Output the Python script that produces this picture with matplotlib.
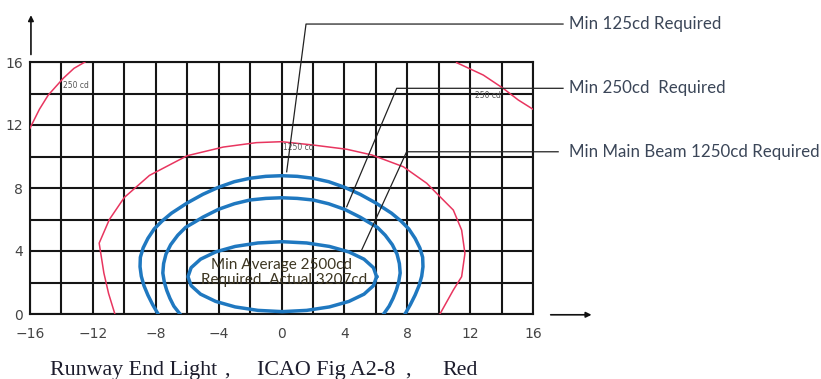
import numpy as np
import matplotlib
matplotlib.use('Agg')
import matplotlib.pyplot as plt
from matplotlib.ticker import MultipleLocator

# values (x = horizontal deg, y = vertical deg)
red_main_x = [-10.6, -11.0, -11.3, -11.6, -10.95, -10.0, -8.4, -6.0, -3.7, -1.6, 0.0,
              2.0, 4.15, 5.74, 7.75, 9.24, 10.08, 10.93, 11.46, 11.67, 11.46, 10.93, 10.08]
red_main_y = [0.0, 1.3, 2.6, 4.5, 6.0, 7.4, 8.8, 10.05, 10.6, 10.88, 10.94,
              10.73, 10.46, 10.1, 9.35, 8.3, 7.45, 6.6, 5.33, 3.85, 2.37, 1.52, 0.0]

red_tl_x = [-16.0, -15.4, -14.84, -13.88, -13.2, -12.5]
red_tl_y = [11.8, 13.0, 13.9, 14.97, 15.6, 16.0]

red_tr_x = [11.14, 12.84, 14.1, 15.06, 16.0]
red_tr_y = [15.96, 15.17, 14.33, 13.59, 13.0]

blue_outer_x = [-7.85, -8.2, -8.5, -8.75, -8.92, -9.0, -8.98, -8.8, -8.5, -8.1, -7.6,
                -7.0, -6.0, -5.0, -4.0, -3.0, -2.0, -1.0, 0.0, 1.0, 2.0, 3.0, 4.0,
                5.0, 6.0, 7.0, 7.6, 8.1, 8.5, 8.8, 8.98, 9.0, 8.92, 8.75, 8.5, 8.2, 7.86]
blue_outer_y = [0.0, 0.6, 1.2, 1.8, 2.4, 3.0, 3.6, 4.2, 4.8, 5.4, 5.9,
                6.4, 7.05, 7.6, 8.05, 8.4, 8.62, 8.74, 8.78, 8.74, 8.62, 8.4, 8.05,
                7.6, 7.05, 6.4, 5.9, 5.4, 4.8, 4.2, 3.6, 3.0, 2.4, 1.8, 1.2, 0.6, 0.0]

blue_mid_x = [-6.46, -6.85, -7.1, -7.3, -7.45, -7.55, -7.5, -7.35, -7.05, -6.6, -6.1,
              -5.5, -5.0, -4.0, -3.0, -2.0, -1.0, 0.0, 1.0, 2.0, 3.0, 4.0, 5.0,
              5.5, 6.1, 6.6, 7.05, 7.35, 7.5, 7.55, 7.45, 7.3, 7.1, 6.85, 6.5]
blue_mid_y = [0.0, 0.5, 1.0, 1.5, 2.0, 2.6, 3.2, 3.8, 4.4, 5.0, 5.5,
              5.85, 6.15, 6.65, 7.0, 7.24, 7.34, 7.38, 7.34, 7.24, 7.0, 6.65, 6.15,
              5.85, 5.5, 5.0, 4.4, 3.8, 3.2, 2.6, 2.0, 1.5, 1.0, 0.5, 0.0]

blue_in_x = [6.05, 5.85, 5.25, 4.29, 3.05, 1.6, 0.05, -1.5, -2.95, -4.19, -5.15, -5.75,
             -5.95, -5.75, -5.15, -4.19, -2.95, -1.5, 0.05, 1.6, 3.05, 4.29, 5.25, 5.85, 6.05]
blue_in_y = [2.37, 2.94, 3.48, 3.94, 4.29, 4.51, 4.59, 4.51, 4.29, 3.94, 3.48, 2.94,
             2.37, 1.8, 1.26, 0.8, 0.45, 0.23, 0.15, 0.23, 0.45, 0.8, 1.26, 1.8, 2.37]

x_ticks = [-16, -12, -8, -4, 0, 4, 8, 12, 16]
y_ticks = [0, 4, 8, 12, 16]

red = '#e8355f'
blue = '#1f78c0'
txt = '#3b4658'

fig = plt.figure(figsize=(8.21, 3.79), dpi=100)
ax = fig.add_axes([30/821, 65/379, 503/821, 252/379])
ax.set_xlim(-16, 16)
ax.set_ylim(0, 16)
ax.xaxis.set_minor_locator(MultipleLocator(2))
ax.yaxis.set_minor_locator(MultipleLocator(2))
ax.set_xticks(x_ticks)
ax.set_yticks(y_ticks)
ax.grid(which='both', color='#151515', lw=1.5)
ax.set_axisbelow(True)
for s in ax.spines.values():
    s.set_color('#151515')
    s.set_linewidth(1.5)
ax.tick_params(which='both', length=0, labelsize=10, labelcolor='#444444')
ax.tick_params(axis='x', pad=9)
ax.tick_params(axis='y', pad=5)

ax.plot(red_main_x, red_main_y, color=red, lw=1.1, zorder=3)
ax.plot(red_tl_x, red_tl_y, color=red, lw=1.1, zorder=3)
ax.plot(red_tr_x, red_tr_y, color=red, lw=1.1, zorder=3)
for bx, by in [(blue_outer_x, blue_outer_y), (blue_mid_x, blue_mid_y), (blue_in_x, blue_in_y)]:
    ax.plot(bx, by, color=blue, lw=2.5, zorder=4, solid_joinstyle='round')

# small curve labels
ax.text(-13.9, 14.5, '250 cd', fontsize=5.5, color='#555555', va='center')
ax.text(12.3, 13.9, '250 cd', fontsize=5.5, color='#555555', va='center')
ax.text(0.1, 10.6, '1250 cd', fontsize=5.5, color='#555555', va='center')

ax.text(0.0, 3.1, 'Min Average 2500cd', fontsize=11, family='Lato', color='#3d3622',
        ha='center', va='center', zorder=5)
ax.text(0.15, 2.15, 'Required  Actual 3207cd', fontsize=11, family='Lato', color='#3d3622',
        ha='center', va='center', zorder=5)

# leader lines
leaders = [
    ([0.33, 1.56, 17.91], [9.03, 18.41, 18.41], 'Min 125cd Required'),
    ([4.15, 7.33, 17.91], [6.81, 14.33, 14.33], 'Min 250cd  Required'),
    ([5.1, 7.96, 17.6], [4.06, 10.3, 10.3], 'Min Main Beam 1250cd Required'),
]
for lx, ly, lab in leaders:
    ax.plot(lx, ly, color='#222222', lw=0.9, clip_on=False, zorder=6)
    ax.text(18.29, ly[-1], lab, fontsize=12.2, family='Lato', color=txt,
            va='center', ha='left')

# axis arrows
ax.annotate('', xy=(-15.94, 19.15), xytext=(-15.94, 16.3), annotation_clip=False,
            arrowprops=dict(arrowstyle='-|>', color='#111111', lw=1.2, mutation_scale=8))
ax.annotate('', xy=(19.9, -0.05), xytext=(16.95, -0.05), annotation_clip=False,
            arrowprops=dict(arrowstyle='-|>', color='#111111', lw=1.2, mutation_scale=8))

# caption
cap = dict(fontsize=15.8, family='Liberation Serif', color='#1c1c2c', va='baseline')
base = 1 - 375/379
fig.text(50/821, base, 'Runway End Light', **cap)
fig.text(224/821, base, ',', **cap)
fig.text(257/821, base, 'ICAO Fig A2-8', **cap)
fig.text(405/821, base, ',', **cap)
fig.text(442/821, base, 'Red', **cap)

fig.savefig('out.png', dpi=100)
